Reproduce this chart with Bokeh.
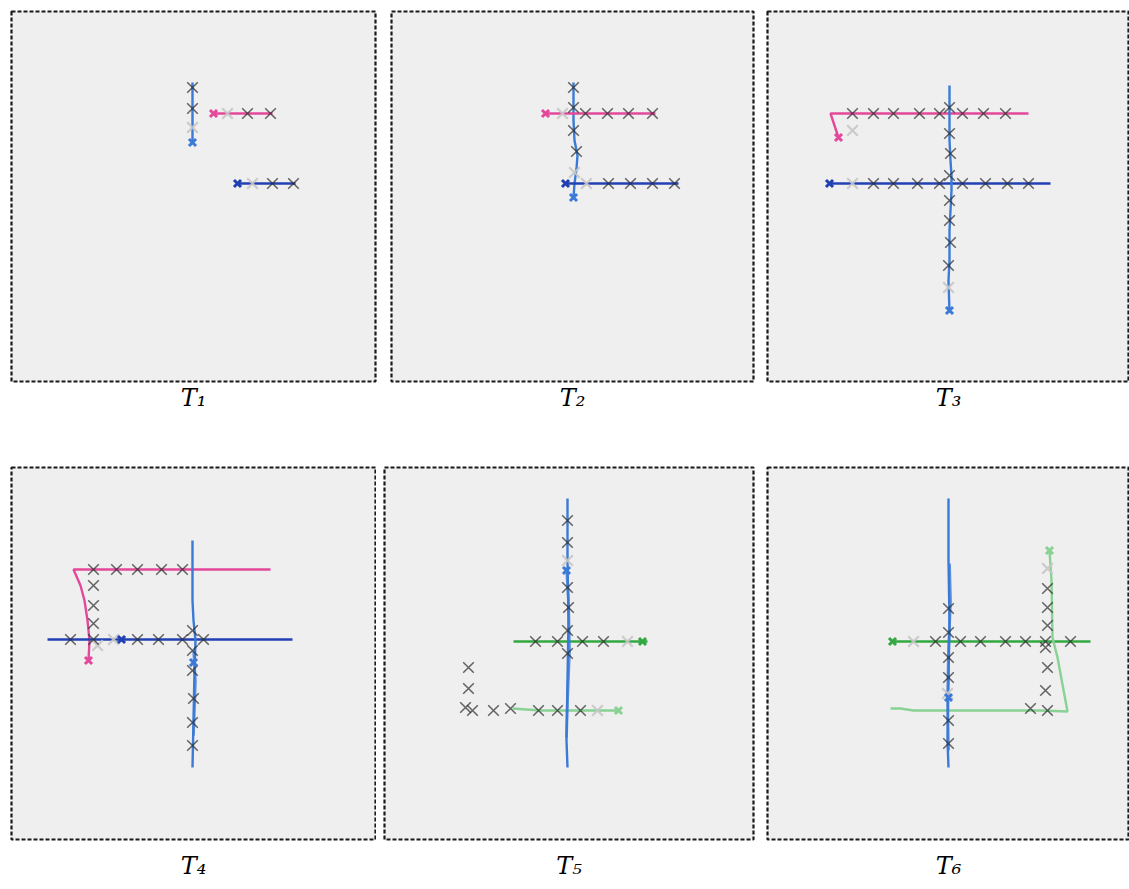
from bokeh.plotting import figure
from bokeh.layouts import column, row
from bokeh.models import Range1d
from bokeh.embed import file_html
from bokeh.resources import INLINE

# ---------------- data: positions (image pixels) ----------------
# T1
t1_mblue_x = [192, 192]
t1_mblue_y = [142, 82]
t1_pink_x = [213, 272]
t1_pink_y = [113, 113]
t1_dblue_x = [237, 295]
t1_dblue_y = [183, 183]
t1_mark_x = [192, 192, 247, 270, 272, 293]
t1_mark_y = [87, 108, 113, 113, 183, 183]
t1_faint_x = [192, 227, 252]
t1_faint_y = [127, 113, 183]
t1_start_pink = ([213], [113])
t1_start_dblue = ([237], [183])
t1_start_mblue = ([192], [142])

# T2
t2_mblue_x = [573, 573, 574, 577, 576, 574, 573]
t2_mblue_y = [82, 120, 140, 155, 168, 183, 197]
t2_pink_x = [545, 655]
t2_pink_y = [113, 113]
t2_dblue_x = [565, 678]
t2_dblue_y = [183, 183]
t2_mark_x = [573, 573, 573, 576, 585, 607, 628, 652, 608, 630, 652, 674]
t2_mark_y = [87, 107, 130, 151, 113, 113, 113, 113, 183, 183, 183, 183]
t2_faint_x = [562, 574, 586]
t2_faint_y = [113, 172, 183]
t2_start_pink = ([545], [113])
t2_start_dblue = ([565], [183])
t2_start_mblue = ([573], [197])

# T3
t3_pink_x = [838, 830, 1028]
t3_pink_y = [137, 113, 113]
t3_dblue_x = [829, 1050]
t3_dblue_y = [183, 183]
t3_mblue_x = [949, 949, 950, 951, 951, 949, 949, 948, 949]
t3_mblue_y = [85, 140, 160, 175, 190, 230, 260, 280, 312]
t3_mark_x = [852, 873, 893, 919, 939, 962, 983, 1005,
             949, 949, 950, 949, 949, 949, 950, 948,
             873, 893, 917, 939, 962, 985, 1007, 1028]
t3_mark_y = [113, 113, 113, 113, 113, 113, 113, 113,
             107, 133, 153, 175, 200, 220, 242, 265,
             183, 183, 183, 183, 183, 183, 183, 183]
t3_faint_x = [852, 852, 948]
t3_faint_y = [130, 183, 287]
t3_start_pink = ([838], [137])
t3_start_dblue = ([829], [183])
t3_start_mblue = ([949], [310])

# T4
t4_pink_x = [88, 89, 87, 84, 80, 73, 270]
t4_pink_y = [660, 640, 620, 600, 585, 569, 569]
t4_dblue_x = [47, 292]
t4_dblue_y = [639, 639]
t4_mblue_x = [192, 192, 193, 195, 194, 193, 192]
t4_mblue_y = [540, 600, 620, 640, 670, 720, 767]
t4_mblue2_x = [193, 195, 194, 193]
t4_mblue2_y = [650, 680, 710, 735]
t4_mark_x = [93, 116, 137, 161, 182, 93, 93, 93,
             70, 93, 137, 158, 182, 203,
             192, 192, 192, 193, 192, 192]
t4_mark_y = [569, 569, 569, 569, 569, 585, 605, 623,
             639, 639, 639, 639, 639, 639,
             630, 650, 670, 698, 722, 745]
t4_faint_x = [113, 97]
t4_faint_y = [639, 645]
t4_start_pink = ([88], [660])
t4_start_dblue = ([121], [639])
t4_start_mblue = ([193], [662])

# T5
t5_mblue_x = [567, 567, 568, 567, 566, 567]
t5_mblue_y = [498, 560, 620, 680, 740, 767]
t5_mblue2_x = [566, 568, 569, 567, 566]
t5_mblue2_y = [567, 600, 650, 700, 737]
t5_dgreen_x = [513, 647]
t5_dgreen_y = [641, 641]
t5_lgreen_x = [512, 540, 618]
t5_lgreen_y = [708, 710, 710]
t5_mark_x = [567, 567, 567, 568, 567, 567,
             535, 557, 582, 603,
             510, 538, 557, 580,
             468, 468, 465, 472, 493]
t5_mark_y = [520, 542, 587, 607, 630, 653,
             641, 641, 641, 641,
             708, 710, 710, 710,
             667, 688, 707, 710, 710]
t5_faint_x = [567, 627, 597]
t5_faint_y = [560, 641, 710]
t5_start_dgreen = ([642], [641])
t5_start_lgreen = ([618], [710])
t5_start_mblue = ([566], [570])

# T6
t6_mblue_x = [948, 948, 949, 948, 947, 948]
t6_mblue_y = [498, 560, 620, 680, 740, 767]
t6_mblue2_x = [949, 950, 948, 947, 948]
t6_mblue2_y = [563, 600, 650, 700, 750]
t6_dgreen_x = [892, 1090]
t6_dgreen_y = [641, 641]
t6_lgreen_x = [1049, 1051, 1052, 1057, 1067, 1040, 960, 913, 900, 890]
t6_lgreen_y = [550, 580, 637, 657, 711, 710, 710, 710, 708, 708]
t6_mark_x = [935, 960, 980, 1005, 1025, 1045, 1070,
             948, 948, 948, 948, 948, 948,
             1047, 1047, 1047, 1045, 1047, 1045, 1047, 1030]
t6_mark_y = [641, 641, 641, 641, 641, 641, 641,
             608, 632, 657, 677, 720, 743,
             588, 607, 625, 647, 667, 690, 710, 708]
t6_faint_x = [913, 1047, 947]
t6_faint_y = [641, 568, 693]
t6_start_dgreen = ([892], [641])
t6_start_lgreen = ([1049], [550])
t6_start_mblue = ([948], [697])

labels = ["T\u2081", "T\u2082", "T\u2083", "T\u2084", "T\u2085", "T\u2086"]

# ---------------- styles ----------------
PINK = "#e4489b"
DBLUE = "#2141b2"
MBLUE = "#3b7ad6"
DGREEN = "#33a842"
LGREEN = "#88d294"
MARK = "#2b2b2b"
FAINT = "#c6c6c6"
BG = "#efefef"


def make_panel(label, frame_left, frame_top, frame_w, frame_h, bl, br, bt, bb, standoff):
    p = figure(width=bl + frame_w + br, height=bt + frame_h + bb,
               x_range=Range1d(frame_left, frame_left + frame_w),
               y_range=Range1d(frame_top + frame_h, frame_top),
               output_backend="svg", toolbar_location=None,
               x_axis_location=None, y_axis_location=None,
               title=label, title_location="below",
               min_border_left=bl, min_border_right=br,
               min_border_top=bt, min_border_bottom=bb)
    p.grid.visible = False
    p.background_fill_color = BG
    p.border_fill_color = "white"
    p.outline_line_color = "#1a1a1a"
    p.outline_line_width = 2.2
    p.outline_line_dash = "4 2"
    p.title.align = "center"
    p.title.standoff = standoff
    p.title.text_font = "DejaVu Serif"
    p.title.text_font_style = "italic"
    p.title.text_font_size = "24px"
    p.title.text_color = "black"
    return p


def stroke(p, xs, ys, color, w=2.4, alpha=1.0):
    p.line(xs, ys, line_color=color, line_width=w, line_alpha=alpha)


def marks(p, xs, ys, faint_x, faint_y):
    p.scatter(faint_x, faint_y, marker="x", size=15, line_color=FAINT, line_width=2.2, line_alpha=0.9)
    p.scatter(xs, ys, marker="x", size=15, line_color=MARK, line_width=1.5, line_alpha=0.72)


def start(p, pt, color):
    p.scatter(pt[0], pt[1], marker="x", size=10, line_color=color, line_width=3)


# layout geometry (screen pixels)
ROW1_TOP, ROW1_H, ROW1_BT, ROW1_BB = 11, 370, 11, 79
ROW2_TOP, ROW2_H, ROW2_BT, ROW2_BB = 467, 372, 7, 50

p1 = make_panel(labels[0], 11, ROW1_TOP, 364, ROW1_H, 11, 8, ROW1_BT, ROW1_BB, 0)
stroke(p1, t1_mblue_x, t1_mblue_y, MBLUE)
stroke(p1, t1_pink_x, t1_pink_y, PINK)
stroke(p1, t1_dblue_x, t1_dblue_y, DBLUE)
marks(p1, t1_mark_x, t1_mark_y, t1_faint_x, t1_faint_y)
start(p1, t1_start_pink, PINK)
start(p1, t1_start_dblue, DBLUE)
start(p1, t1_start_mblue, MBLUE)

p2 = make_panel(labels[1], 391, ROW1_TOP, 362, ROW1_H, 8, 6, ROW1_BT, ROW1_BB, 0)
stroke(p2, t2_mblue_x, t2_mblue_y, MBLUE)
stroke(p2, t2_pink_x, t2_pink_y, PINK)
stroke(p2, t2_dblue_x, t2_dblue_y, DBLUE)
marks(p2, t2_mark_x, t2_mark_y, t2_faint_x, t2_faint_y)
start(p2, t2_start_pink, PINK)
start(p2, t2_start_dblue, DBLUE)
start(p2, t2_start_mblue, MBLUE)

p3 = make_panel(labels[2], 767, ROW1_TOP, 362, ROW1_H, 8, 0, ROW1_BT, ROW1_BB, 0)
stroke(p3, t3_pink_x, t3_pink_y, PINK)
stroke(p3, t3_dblue_x, t3_dblue_y, DBLUE)
stroke(p3, t3_mblue_x, t3_mblue_y, MBLUE)
marks(p3, t3_mark_x, t3_mark_y, t3_faint_x, t3_faint_y)
start(p3, t3_start_pink, PINK)
start(p3, t3_start_dblue, DBLUE)
start(p3, t3_start_mblue, MBLUE)

p4 = make_panel(labels[3], 11, ROW2_TOP, 364, ROW2_H, 11, 1, ROW2_BT, ROW2_BB, 20)
stroke(p4, t4_pink_x, t4_pink_y, PINK)
stroke(p4, t4_dblue_x, t4_dblue_y, DBLUE)
stroke(p4, t4_mblue_x, t4_mblue_y, MBLUE)
stroke(p4, t4_mblue2_x, t4_mblue2_y, MBLUE, 2.6, 0.8)
marks(p4, t4_mark_x, t4_mark_y, t4_faint_x, t4_faint_y)
start(p4, t4_start_pink, PINK)
start(p4, t4_start_dblue, DBLUE)
start(p4, t4_start_mblue, MBLUE)

p5 = make_panel(labels[4], 384, ROW2_TOP, 369, ROW2_H, 8, 6, ROW2_BT, ROW2_BB, 20)
stroke(p5, t5_dgreen_x, t5_dgreen_y, DGREEN)
stroke(p5, t5_lgreen_x, t5_lgreen_y, LGREEN)
stroke(p5, t5_mblue_x, t5_mblue_y, MBLUE)
stroke(p5, t5_mblue2_x, t5_mblue2_y, MBLUE, 2.8, 0.8)
marks(p5, t5_mark_x, t5_mark_y, t5_faint_x, t5_faint_y)
start(p5, t5_start_dgreen, DGREEN)
start(p5, t5_start_lgreen, LGREEN)
start(p5, t5_start_mblue, MBLUE)

p6 = make_panel(labels[5], 767, ROW2_TOP, 362, ROW2_H, 8, 0, ROW2_BT, ROW2_BB, 20)
stroke(p6, t6_dgreen_x, t6_dgreen_y, DGREEN)
stroke(p6, t6_lgreen_x, t6_lgreen_y, LGREEN)
stroke(p6, t6_mblue_x, t6_mblue_y, MBLUE)
stroke(p6, t6_mblue2_x, t6_mblue2_y, MBLUE, 2.8, 0.8)
marks(p6, t6_mark_x, t6_mark_y, t6_faint_x, t6_faint_y)
start(p6, t6_start_dgreen, DGREEN)
start(p6, t6_start_lgreen, LGREEN)
start(p6, t6_start_mblue, MBLUE)

layout = column(row(p1, p2, p3), row(p4, p5, p6))

open("out.html", "w").write(file_html(layout, INLINE))
